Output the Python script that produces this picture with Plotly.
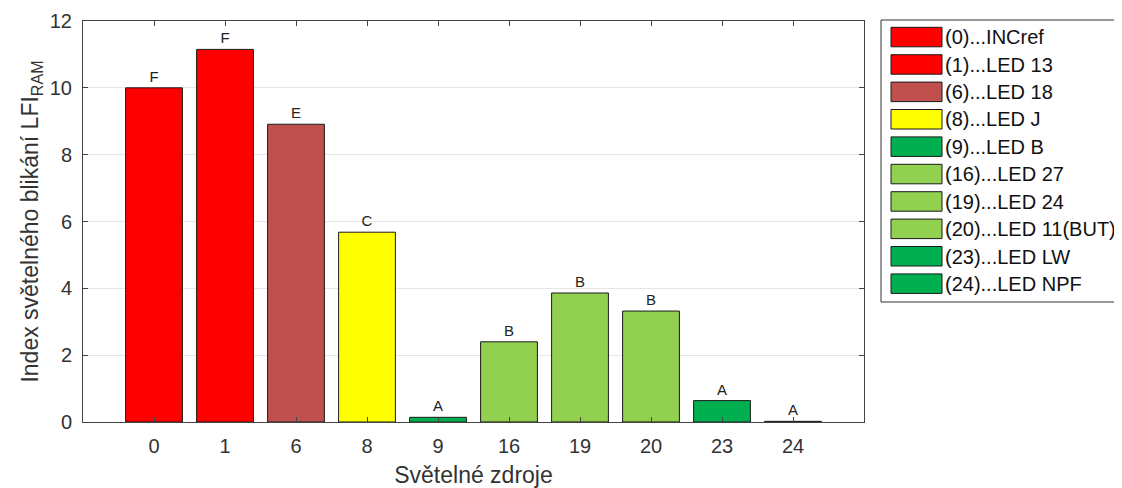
import plotly.graph_objects as go

categories = ["0", "1", "6", "8", "9", "16", "19", "20", "23", "24"]
values = [10.0, 11.15, 8.91, 5.68, 0.14, 2.40, 3.86, 3.32, 0.64, 0.02]
letters = ["F", "F", "E", "C", "A", "B", "B", "B", "A", "A"]
legend_names = ["(0)...INCref", "(1)...LED 13", "(6)...LED 18", "(8)...LED J", "(9)...LED B",
                "(16)...LED 27", "(19)...LED 24", "(20)...LED 11(BUT)", "(23)...LED LW", "(24)...LED NPF"]
colors = ["#FF0000", "#FF0000", "#C0504D", "#FFFF00", "#00B050",
          "#92D050", "#92D050", "#92D050", "#00B050", "#00B050"]

FONT = "Liberation Sans, Arial, Helvetica, sans-serif"
OFF = 8  # page body margin
W, H = 1122 - OFF, 488 - OFF
# plot area in screen pixels
L, R, T, B = 83, 864, 21, 422

fig = go.Figure()
for cat, val, let, name, col in zip(categories, values, letters, legend_names, colors):
    fig.add_trace(go.Bar(
        x=[cat], y=[val], name=name, width=0.8,
        marker=dict(color=col, line=dict(color="#1a1a1a", width=1)),
        text=[let], textposition="outside", cliponaxis=False,
        textfont=dict(family=FONT, size=15, color="#222"),
        showlegend=False,
    ))

def px(x):
    return (x - L) / (R - L)

def py(y):
    return (B - y) / (B - T)

shapes = []
annotations = []
shapes.append(dict(type="rect", xref="paper", yref="paper",
                   x0=px(881), x1=px(1135), y0=py(302), y1=py(20),
                   line=dict(color="#333", width=1), fillcolor="white", layer="above"))
for i, (name, col) in enumerate(zip(legend_names, colors)):
    top = 27.3 + i * 27.4
    shapes.append(dict(type="rect", xref="paper", yref="paper",
                       x0=px(891), x1=px(942), y0=py(top + 19.5), y1=py(top),
                       line=dict(color="#1a1a1a", width=1), fillcolor=col, layer="above"))
    annotations.append(dict(xref="paper", yref="paper", x=px(943), y=py(top + 10),
                            text=name, showarrow=False, xanchor="left", yanchor="middle",
                            font=dict(family=FONT, size=20, color="#111")))

fig.update_layout(
    width=W, height=H,
    margin=dict(l=L - OFF, r=W - (R - OFF), t=T - OFF, b=H - (B - OFF), pad=0, autoexpand=False),
    plot_bgcolor="white", paper_bgcolor="white",
    barmode="overlay", showlegend=False,
    shapes=shapes, annotations=annotations,
    font=dict(family=FONT, color="#262626"),
    xaxis=dict(type="category", categoryorder="array", categoryarray=categories,
               range=[-1, len(categories)], showline=True, linecolor="#444", linewidth=1,
               mirror="ticks", ticks="inside", ticklen=5, tickcolor="#444", automargin=False,
               tickfont=dict(size=20, color="#333"), showgrid=False, ticklabelstandoff=6,
               title=dict(text="Světelné zdroje", font=dict(size=23, color="#333"), standoff=10)),
    yaxis=dict(range=[0, 12], dtick=2, showline=True, linecolor="#444", linewidth=1,
               mirror="ticks", ticks="inside", ticklen=5, tickcolor="#444", automargin=False,
               tickfont=dict(size=20, color="#333"), showgrid=True, gridcolor="#e6e6e6",
               zeroline=False, ticklabelstandoff=6,
               title=dict(text="Index světelného blikání LFI<sub>RAM</sub>",
                          font=dict(size=23, color="#333"), standoff=4)),
)

fig.write_html("out.html")
